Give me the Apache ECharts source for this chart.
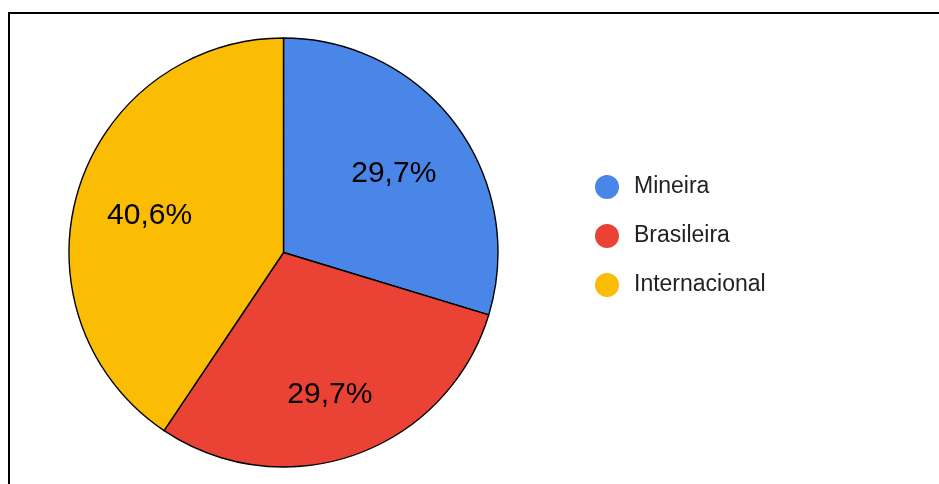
<!DOCTYPE html>
<html>
<head>
<meta charset="utf-8">
<script src="https://cdn.jsdelivr.net/npm/echarts@6/dist/echarts.min.js"></script>
<style>
html,body{margin:0;padding:0;background:#fff;}
#chart{width:939px;height:484px;}
</style>
</head>
<body>
<div id="chart"></div>
<script>
const categories = ['Mineira', 'Brasileira', 'Internacional'];
const values = [29.7, 29.7, 40.6];
const colors = ['#4a86e8', '#ea4335', '#fbbc04'];

const fmt = v => v.toFixed(1).replace('.', ',') + '%';
const data = categories.map((c, i) => ({ name: c, value: values[i], itemStyle: { color: colors[i] } }));
const labelOffsets = [[-3, 5], [-1, 9], [1, 4]];
const labelData = categories.map((c, i) => ({ name: c, value: values[i], label: { offset: labelOffsets[i] } }));

const chart = echarts.init(document.getElementById('chart'));
chart.setOption({
  animation: false,
  graphic: [{
    type: 'rect',
    shape: { x: 9, y: 13, width: 1000, height: 1000 },
    style: { fill: 'none', stroke: '#000', lineWidth: 2 },
    z: 100
  }],
  legend: {
    orient: 'vertical',
    left: 590,
    top: 170,
    icon: 'circle',
    itemWidth: 24,
    itemHeight: 24,
    itemGap: 25,
    data: categories,
    itemStyle: { borderWidth: 0 },
    textStyle: { fontSize: 23, color: '#222', fontFamily: 'Liberation Sans, Arial', padding: [0, 0, 0, 10] }
  },
  series: [{
    type: 'pie',
    center: [283.5, 252.5],
    radius: [0, 214.5],
    startAngle: 90,
    clockwise: true,
    data: data,
    label: { show: false },
    labelLine: { show: false },
    itemStyle: { borderColor: '#000', borderWidth: 1.4 },
    silent: true
  }, {
    type: 'pie',
    center: [283.5, 252.5],
    radius: [118, 158],
    startAngle: 90,
    clockwise: true,
    data: labelData,
    legendHoverLink: false,
    itemStyle: { color: 'transparent', borderWidth: 0 },
    label: {
      show: true,
      position: 'inside',
      formatter: p => fmt(p.value),
      fontSize: 30,
      color: '#000',
      fontFamily: 'Liberation Sans, Arial'
    },
    labelLine: { show: false },
    silent: true
  }]
});
</script>
</body>
</html>
